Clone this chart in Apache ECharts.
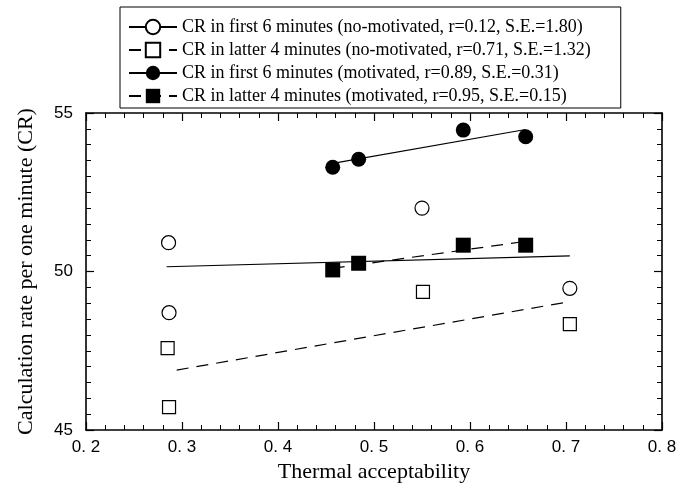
<!DOCTYPE html>
<html>
<head>
<meta charset="utf-8">
<script src="https://cdn.jsdelivr.net/npm/echarts@6/dist/echarts.min.js"></script>
<style>
  html, body { margin: 0; padding: 0; background: #fff; }
  #chart { width: 676px; height: 484px; }
</style>
</head>
<body>
<div id="chart"></div>
<script>
// Axis settings
const xTicks = { min: 0.2, max: 0.8, interval: 0.1 };
const yTicks = { min: 45, max: 55, interval: 5 };

// Series names (legend text)
const seriesNames = [
  'CR in first 6 minutes (no-motivated, r=0.12, S.E.=1.80)',
  'CR in latter 4 minutes (no-motivated, r=0.71, S.E.=1.32)',
  'CR in first 6 minutes (motivated, r=0.89, S.E.=0.31)',
  'CR in latter 4 minutes (motivated, r=0.95, S.E.=0.15)'
];

// Measured points: [thermal acceptability, CR]
const firstNoMot  = [[0.286, 50.91], [0.2865, 48.70], [0.550, 52.00], [0.704, 49.47]];
const latterNoMot = [[0.285, 47.58], [0.2865, 45.72], [0.551, 49.36], [0.704, 48.34]];
const firstMot    = [[0.457, 53.29], [0.484, 53.54], [0.593, 54.46], [0.658, 54.25]];
const latterMot   = [[0.457, 50.05], [0.484, 50.26], [0.593, 50.83], [0.658, 50.83]];

// Regression lines (end points)
const fitFirstNoMot  = [[0.284, 50.15], [0.704, 50.49]];
const fitLatterNoMot = [[0.2945, 46.89], [0.704, 49.05]];
const fitFirstMot    = [[0.457, 53.41], [0.658, 54.48]];
const fitLatterMot   = [[0.457, 50.10], [0.658, 50.95]];

const SERIF = '"Liberation Serif", "Times New Roman", serif';
const SANS = '"Liberation Sans", Arial, sans-serif';

const openStyle = { color: '#fff', borderColor: '#000', borderWidth: 1.2, opacity: 1 };
const filledStyle = { color: '#000', borderColor: '#000', borderWidth: 0, opacity: 1 };

const groups = [
  { name: seriesNames[0], pts: firstNoMot,  fit: fitFirstNoMot,  symbol: 'circle', size: 14, style: openStyle,   dash: 'solid' },
  { name: seriesNames[1], pts: latterNoMot, fit: fitLatterNoMot, symbol: 'rect',   size: 13, style: openStyle,   dash: [12, 8] },
  { name: seriesNames[2], pts: firstMot,    fit: fitFirstMot,    symbol: 'circle', size: 15, style: filledStyle, dash: 'solid' },
  { name: seriesNames[3], pts: latterMot,   fit: fitLatterMot,   symbol: 'rect',   size: 15, style: filledStyle, dash: [12, 8] }
];

const series = [];
// Regression lines first so the legend icon shows line + marker
groups.forEach(g => {
  series.push({
    name: g.name,
    type: 'line',
    data: g.fit,
    showSymbol: false,
    symbol: g.symbol,
    symbolSize: g.size,
    itemStyle: g.style,
    lineStyle: { color: '#000', width: 1.2, type: g.dash },
    silent: true,
    z: 2,
    animation: false
  });
});
groups.forEach(g => {
  series.push({
    name: g.name,
    type: 'scatter',
    data: g.pts,
    symbol: g.symbol,
    symbolSize: g.size,
    itemStyle: g.style,
    z: 5,
    animation: false
  });
});

function axisBase() {
  return {
    axisLine: { show: true, onZero: false, lineStyle: { color: '#000', width: 1.6 } },
    axisTick: { show: true, inside: true, length: 8, lineStyle: { color: '#000', width: 1.2 } },
    splitLine: { show: false }
  };
}

const xLabelFmt = v => v.toFixed(1).replace('.', '. ');

const option = {
  backgroundColor: '#fff',
  animation: false,
  grid: { left: 86, right: 14, top: 113, bottom: 54, containLabel: false, outerBoundsMode: 'none' },
  legend: {
    orient: 'vertical',
    left: 120,
    top: 7,
    padding: [10, 30, 2, 8],
    itemWidth: 48,
    itemHeight: 18,
    itemGap: 3,
    borderColor: '#000',
    borderWidth: 1,
    borderRadius: 0,
    textStyle: { fontFamily: SERIF, fontSize: 18, color: '#000', lineHeight: 20 },
    data: seriesNames
  },
  xAxis: [
    Object.assign(axisBase(), {
      type: 'value', position: 'bottom',
      min: xTicks.min, max: xTicks.max, interval: xTicks.interval,
      minorTick: { show: true, splitNumber: 5, length: 5, lineStyle: { color: '#000', width: 1 } },
      axisLabel: { show: true, formatter: xLabelFmt, fontFamily: SANS, fontSize: 17, color: '#000', margin: 9 },
      name: 'Thermal acceptability',
      nameLocation: 'middle', nameGap: 23,
      nameTextStyle: { fontFamily: SERIF, fontSize: 22, color: '#000' }
    }),
    Object.assign(axisBase(), {
      type: 'value', position: 'top',
      min: xTicks.min, max: xTicks.max, interval: xTicks.interval,
      minorTick: { show: true, splitNumber: 5, length: 5, lineStyle: { color: '#000', width: 1 } },
      axisLabel: { show: false }
    })
  ],
  yAxis: [
    Object.assign(axisBase(), {
      type: 'value', position: 'left',
      min: yTicks.min, max: yTicks.max, interval: yTicks.interval,
      minorTick: { show: true, splitNumber: 10, length: 5, lineStyle: { color: '#000', width: 1 } },
      axisLabel: { show: true, fontFamily: SANS, fontSize: 17, color: '#000', margin: 13,
                   verticalAlign: 'middle', padding: [0, 0, 8, 0] },
      name: 'Calculation rate per one minute (CR)',
      nameLocation: 'middle', nameGap: 49,
      nameTextStyle: { fontFamily: SERIF, fontSize: 22, color: '#000' }
    }),
    Object.assign(axisBase(), {
      type: 'value', position: 'right',
      min: yTicks.min, max: yTicks.max, interval: yTicks.interval,
      minorTick: { show: true, splitNumber: 10, length: 5, lineStyle: { color: '#000', width: 1 } },
      axisLabel: { show: false }
    })
  ],
  series: series
};

const chart = echarts.init(document.getElementById('chart'), null, { renderer: 'canvas' });
chart.setOption(option);
</script>
</body>
</html>
